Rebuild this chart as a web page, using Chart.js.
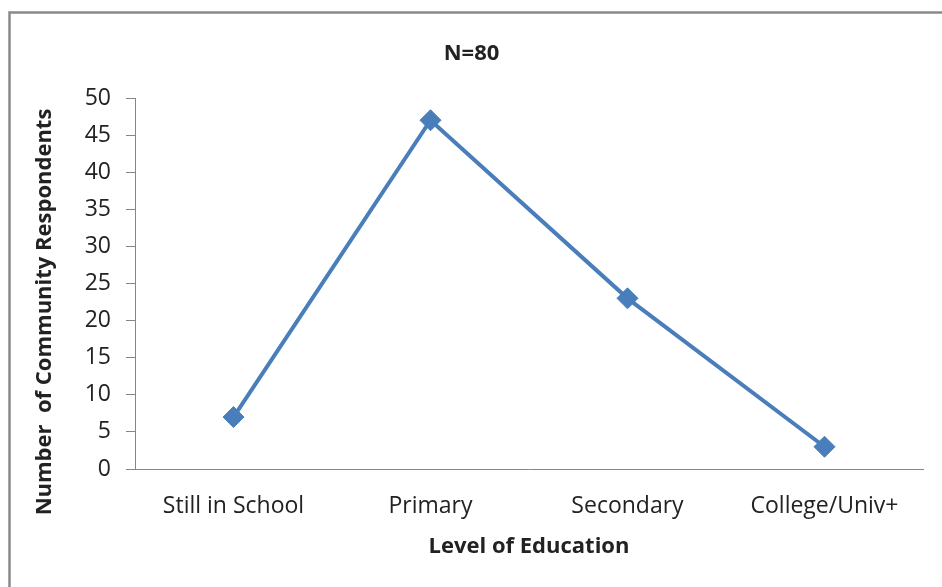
<!DOCTYPE html>
<html>
<head>
<meta charset="utf-8">
<script src="https://cdn.jsdelivr.net/npm/chart.js@4"></script>
<style>
  html, body { margin: 0; padding: 0; background: #ffffff; overflow: hidden; }
  #wrap { position: relative; width: 942px; height: 587px; }
</style>
</head>
<body>
<div id="wrap"><canvas id="chart" width="942" height="587"></canvas></div>
<script>
// Respondents by level of education
const categories = ['Still in School', 'Primary', 'Secondary', 'College/Univ+'];
const respondents = [7, 47, 23, 3];
const yMin = 0;
const yMax = 50;
const yStep = 5;
const chartTitle = 'N=80';
const xTitle = 'Level of Education';
const yTitle = 'Number  of Community Respondents';

const FONT = "'Open Sans', 'Liberation Sans', sans-serif";
const TEXT = '#222222';
const AXIS = '#868686';
const LINE = '#4A7EBB';

// Outer frame of the chart object
const framePlugin = {
  id: 'frame',
  beforeDraw(chart) {
    const ctx = chart.ctx;
    ctx.save();
    ctx.fillStyle = '#ffffff';
    ctx.fillRect(0, 0, chart.width, chart.height);
    ctx.strokeStyle = '#8a8a8a';
    ctx.lineWidth = 2.5;
    ctx.strokeRect(9.5, 12.5, chart.width + 40, chart.height + 40);
    ctx.restore();
  }
};

// Vertical axis title, centred on the full left side
const yTitlePlugin = {
  id: 'yTitle',
  afterDraw(chart) {
    const ctx = chart.ctx;
    ctx.save();
    ctx.translate(45, 312);
    ctx.rotate(-Math.PI / 2);
    ctx.font = "bold 22px " + FONT;
    ctx.fillStyle = TEXT;
    ctx.textAlign = 'center';
    ctx.textBaseline = 'middle';
    ctx.fillText(yTitle, 0, 0);
    ctx.restore();
  }
};

new Chart(document.getElementById('chart'), {
  type: 'line',
  data: {
    labels: categories,
    datasets: [{
      data: respondents,
      borderColor: LINE,
      backgroundColor: LINE,
      borderWidth: 4,
      tension: 0,
      pointStyle: 'rectRot',
      pointRadius: 10.5,
      pointBackgroundColor: LINE,
      pointBorderColor: LINE,
      pointBorderWidth: 1
    }]
  },
  options: {
    responsive: false,
    animation: false,
    layout: { padding: { left: 20, right: 19, top: 0, bottom: 0 } },
    plugins: {
      legend: { display: false },
      tooltip: { enabled: false },
      title: {
        display: true,
        text: chartTitle,
        color: TEXT,
        font: { family: FONT, size: 22, weight: 'bold', lineHeight: 1.2 },
        padding: { top: 41, bottom: 30.6 }
      }
    },
    scales: {
      x: {
        offset: true,
        grid: { display: false, drawTicks: false },
        border: { display: true, color: AXIS, width: 1 },
        ticks: { color: TEXT, font: { family: FONT, size: 23 }, padding: 24, maxRotation: 0 },
        title: {
          display: true,
          text: xTitle,
          color: TEXT,
          font: { family: FONT, size: 22, weight: 'bold', lineHeight: 1.2 },
          padding: { top: 0, bottom: 27 }
        },
        afterFit(scale) { scale.height = 118; }
      },
      y: {
        min: yMin,
        max: yMax,
        grid: { drawOnChartArea: false, drawTicks: true, tickLength: 9, color: AXIS },
        border: { display: true, color: AXIS, width: 1 },
        ticks: { stepSize: yStep, color: TEXT, font: { family: FONT, size: 23 }, padding: 15 },
        afterFit(scale) { scale.width = 115; }
      }
    }
  },
  plugins: [framePlugin, yTitlePlugin]
});
</script>
</body>
</html>
